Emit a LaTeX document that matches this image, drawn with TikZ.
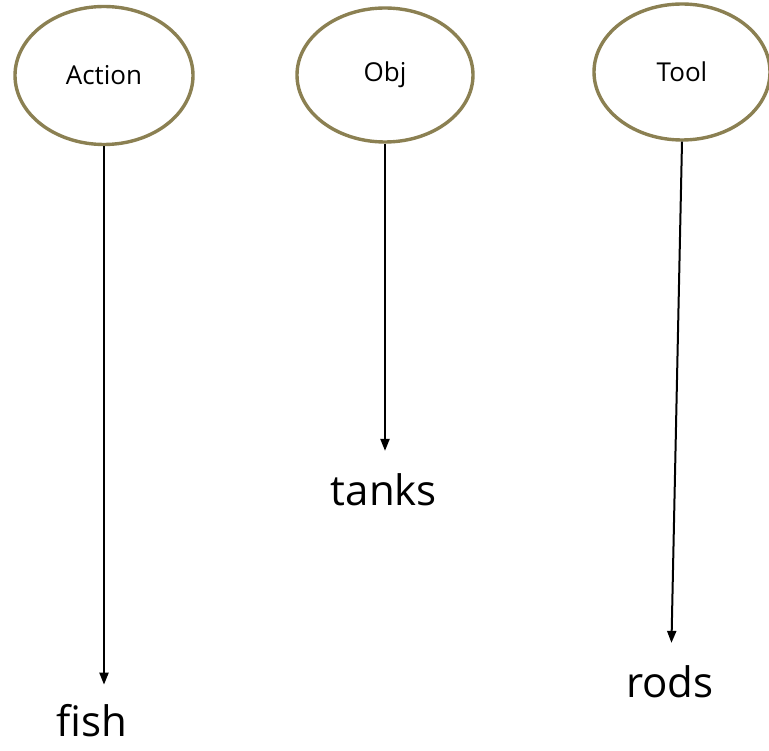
\documentclass[tikz,border=0pt]{standalone}
\usepackage{fontspec}
\setmainfont{Open Sans}
\usetikzlibrary{arrows.meta,shapes.geometric}
\definecolor{rim}{RGB}{139,128,82}
\tikzset{
  x=1pt, y=1pt,
  oval/.style={draw=rim, line width=3.4pt, ellipse, inner sep=0pt, fill=white,
    font=\fontsize{26}{30}\selectfont},
  word/.style={inner sep=0pt, font=\fontsize{42}{48}\selectfont},
  link/.style={line width=2pt, -{Triangle[length=12pt,width=9pt]}},
}
\begin{document}
\begin{tikzpicture}
\useasboundingbox (0,0) rectangle (769,-751);
\node[oval, minimum width=178pt, minimum height=138pt] (act) at (104,-75.5) {Action};
\node[oval, minimum width=176pt, minimum height=134pt] (obj) at (385,-75) {Obj};
\node[oval, minimum width=176pt, minimum height=136pt] (tool) at (682,-72) {Tool};

\node[word, anchor=base] (fish) at (92,-736) {fish};
\node[word, anchor=base] (tanks) at (384,-505) {tanks};
\node[word, anchor=base] (rods) at (670,-697) {rods};

\draw[link, shorten >=19pt] (act.south) -- (act.south |- fish.north);
\draw[link, shorten >=22pt] (obj.south) -- (obj.south |- tanks.north);
\draw[link, shorten >=22pt] (tool.south) -- ([xshift=1pt]rods.north);
\end{tikzpicture}
\end{document}
